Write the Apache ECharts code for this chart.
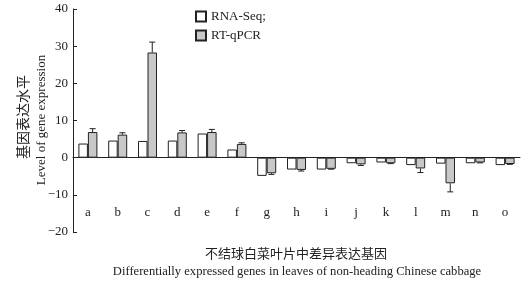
<!DOCTYPE html>
<html>
<head>
<meta charset="utf-8">
<script src="https://cdn.jsdelivr.net/npm/echarts@6/dist/echarts.min.js"></script>
<style>
  html, body { margin: 0; padding: 0; background: #fff; }
  #chart { width: 524px; height: 282px; }
</style>
</head>
<body>
<div id="chart"></div>
<script>
var categories = ['a', 'b', 'c', 'd', 'e', 'f', 'g', 'h', 'i', 'j', 'k', 'l', 'm', 'n', 'o']
var rnaSeq = [3.8, 4.6, 4.5, 4.6, 6.5, 2.2, -4.9, -3.2, -3.2, -1.5, -1.3, -2.0, -1.6, -1.5, -2.0]
var rtqpcr = [6.9, 6.2, 28.3, 6.8, 6.9, 3.7, -4.2, -3.3, -3.0, -1.8, -1.5, -2.9, -6.9, -1.3, -1.7]
var rtqpcrErr = [0.9, 0.5, 2.8, 0.5, 0.7, 0.3, 0.3, 0.3, 0.1, 0.3, 0.1, 1.1, 2.3, 0.1, 0.1]
var yTicks = [-20, -10, 0, 10, 20, 30, 40]

var serif = '"Liberation Serif", "Times New Roman", serif'
var cjk = '"Noto Sans CJK SC", sans-serif'
var barW = 9.5

var chart = echarts.init(document.getElementById('chart'))

// error bar data: [index, bar value, bar end + error]
var errData = []
for (let i = 0; i < rtqpcr.length; i++) {
  var v = rtqpcr[i]
  var e = v >= 0 ? v + rtqpcrErr[i] : v - rtqpcrErr[i]
  errData.push([i, v, e])
}

var option = {
  animation: false,
  grid: { left: 73, right: 4, top: 9, bottom: 50, outerBoundsMode: 'none' },
  legend: {
    orient: 'vertical',
    left: 190,
    top: 5,
    itemWidth: 10,
    itemHeight: 10,
    itemGap: 6,
    icon: 'rect',
    textStyle: { fontFamily: serif, fontSize: 13, color: '#222' },
    data: ['RNA-Seq;', 'RT-qPCR']
  },
  xAxis: {
    type: 'category',
    data: categories,
    axisLine: { onZero: true, lineStyle: { color: '#222', width: 1 } },
    axisTick: { show: false },
    axisLabel: { margin: -26, fontFamily: serif, fontSize: 13, color: '#222' }
  },
  yAxis: {
    type: 'value',
    min: yTicks[0],
    max: yTicks[yTicks.length - 1],
    interval: 10,
    splitLine: { show: false },
    axisLine: { show: true, lineStyle: { color: '#222', width: 1 } },
    axisTick: { show: true, inside: true, length: 4, lineStyle: { color: '#222' } },
    axisLabel: {
      margin: 5,
      fontFamily: serif,
      fontSize: 13,
      color: '#222',
      formatter: function (v) { return String(v).replace('-', '\u2212') }
    }
  },
  graphic: [
    {
      type: 'text',
      x: 296,
      y: 253,
      style: { text: '不结球白菜叶片中差异表达基因', font: '13px ' + cjk, fill: '#222', align: 'center', verticalAlign: 'middle' }
    },
    {
      type: 'text',
      x: 297,
      y: 272,
      style: { text: 'Differentially expressed genes in leaves of non-heading Chinese cabbage', font: '12.6px ' + serif, fill: '#222', align: 'center', verticalAlign: 'middle' }
    },
    {
      type: 'text',
      x: 23,
      y: 117,
      rotation: Math.PI / 2,
      style: { text: '基因表达水平', font: '14px ' + cjk, fill: '#222', align: 'center', verticalAlign: 'middle' }
    },
    {
      type: 'text',
      x: 42,
      y: 120,
      rotation: Math.PI / 2,
      style: { text: 'Level of gene expression', font: '13px ' + serif, fill: '#222', align: 'center', verticalAlign: 'middle' }
    }
  ],
  series: [
    {
      name: 'RNA-Seq;',
      type: 'bar',
      barWidth: barW,
      barGap: '0%',
      data: rnaSeq,
      itemStyle: { color: '#ffffff', borderColor: '#222', borderWidth: 1 }
    },
    {
      name: 'RT-qPCR',
      type: 'bar',
      barWidth: barW,
      barGap: '0%',
      data: rtqpcr,
      itemStyle: { color: '#c8c8c8', borderColor: '#222', borderWidth: 1 }
    },
    {
      type: 'custom',
      data: errData,
      encode: { x: 0, y: [1, 2] },
      z: 5,
      renderItem: function (params, api) {
        var p0 = api.coord([api.value(0), api.value(1)])
        var p1 = api.coord([api.value(0), api.value(2)])
        var x = p0[0] + barW / 2
        var cap = 3
        return {
          type: 'group',
          children: [
            { type: 'line', shape: { x1: x, y1: p0[1], x2: x, y2: p1[1] }, style: { stroke: '#222', lineWidth: 1 } },
            { type: 'line', shape: { x1: x - cap, y1: p1[1], x2: x + cap, y2: p1[1] }, style: { stroke: '#222', lineWidth: 1 } }
          ]
        }
      }
    }
  ]
}
chart.setOption(option)
</script>
</body>
</html>
